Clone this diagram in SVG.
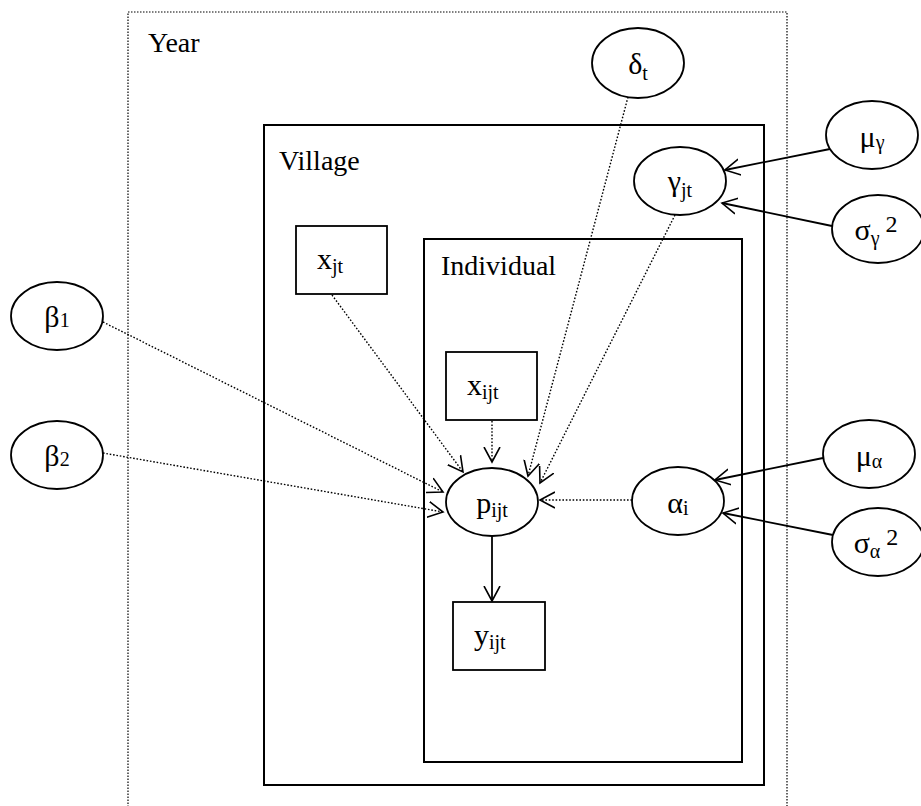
<svg xmlns="http://www.w3.org/2000/svg" width="921" height="806" viewBox="0 0 921 806">
<defs>
<marker id="ah" markerUnits="userSpaceOnUse" markerWidth="22" markerHeight="22" viewBox="0 -11 22 22" refX="15" refY="0" orient="auto">
<path d="M0,-8 L15,0 L0,8" fill="none" stroke="#000" stroke-width="1.6"/>
</marker>
</defs>
<style>
.plate{fill:none;stroke:#000;stroke-width:2}
.outer{fill:none;stroke:#000;stroke-width:1.2;stroke-dasharray:1.5 1.5}
.node{fill:#fff;stroke:#000;stroke-width:1.8}
.lbl{font-family:'Liberation Serif','Times New Roman',Times,serif;font-size:28px;fill:#000}
.nl{font-size:30px}
.sub{font-size:20px}
.sup{font-size:24px}
.dot{fill:none;stroke:#000;stroke-width:1.4;stroke-dasharray:1.6 1.8;marker-end:url(#ah)}
.sol{fill:none;stroke:#000;stroke-width:1.8;marker-end:url(#ah)}
</style>
<rect fill="#fff" x="0" y="0" width="921" height="806"/>
<g id="plates">
<rect id="year" class="outer" x="128" y="12" width="659" height="820"/>
<text class="lbl" x="148" y="52">Year</text>
<rect id="village" class="plate" x="264" y="125" width="500" height="660"/>
<text class="lbl" x="279" y="170">Village</text>
<rect id="individual" class="plate" x="424" y="239" width="318" height="523"/>
<text class="lbl" x="441" y="275">Individual</text>
</g>
<g id="connectors">
<line class="dot" x1="103" y1="322" x2="443" y2="492"/>
<line class="dot" x1="103" y1="453" x2="443" y2="512"/>
<line class="dot" x1="332" y1="295" x2="463" y2="472"/>
<line class="dot" x1="492" y1="421" x2="492" y2="462"/>
<line class="dot" x1="628" y1="97" x2="528" y2="476"/>
<line class="dot" x1="675" y1="215" x2="540" y2="483"/>
<line class="dot" x1="632" y1="500" x2="540" y2="500"/>
<line class="sol" x1="492" y1="536" x2="492" y2="601"/>
<line class="sol" x1="830" y1="149" x2="725" y2="170"/>
<line class="sol" x1="832" y1="226" x2="722" y2="203"/>
<line class="sol" x1="823" y1="458" x2="715" y2="480"/>
<line class="sol" x1="833" y1="535" x2="723" y2="513"/>
</g>
<g id="n_delta"><ellipse class="node" cx="638" cy="63" rx="46" ry="35"/><text class="lbl nl" x="638" y="74" text-anchor="middle">δ<tspan class="sub" dy="6">t</tspan></text></g>
<g id="n_gamma"><ellipse class="node" cx="680" cy="181" rx="46" ry="34"/><text class="lbl nl" x="680" y="191" text-anchor="middle">γ<tspan class="sub" dy="6">jt</tspan></text></g>
<g id="n_mu_gamma"><ellipse class="node" cx="872" cy="135" rx="46" ry="34"/><text class="lbl nl" x="872" y="147" text-anchor="middle">μ<tspan class="sub" dy="2">γ</tspan></text></g>
<g id="n_sigma_gamma"><ellipse class="node" cx="878" cy="229" rx="46" ry="34"/><text class="lbl nl" x="876" y="240" text-anchor="middle">σ<tspan class="sub" dy="5">γ</tspan><tspan class="sup" dx="6" dy="-13">2</tspan></text></g>
<g id="n_beta1"><ellipse class="node" cx="57" cy="316" rx="46" ry="34"/><text class="lbl nl" x="57" y="327" text-anchor="middle">β<tspan class="sub">1</tspan></text></g>
<g id="n_beta2"><ellipse class="node" cx="57" cy="455" rx="46" ry="34"/><text class="lbl nl" x="57" y="466" text-anchor="middle">β<tspan class="sub">2</tspan></text></g>
<g id="n_xjt"><rect class="node" x="296" y="226" width="91" height="68"/><text class="lbl nl" x="317" y="269">x<tspan class="sub" dy="4">jt</tspan></text></g>
<g id="n_xijt"><rect class="node" x="446" y="352" width="91" height="68"/><text class="lbl nl" x="467" y="395">x<tspan class="sub" dy="4">ijt</tspan></text></g>
<g id="n_p"><ellipse class="node" cx="492" cy="502" rx="46" ry="34"/><text class="lbl nl" x="492" y="513" text-anchor="middle">p<tspan class="sub" dy="4">ijt</tspan></text></g>
<g id="n_alpha"><ellipse class="node" cx="678" cy="501" rx="46" ry="34"/><text class="lbl nl" x="678" y="513" text-anchor="middle">α<tspan class="sub" dy="2">i</tspan></text></g>
<g id="n_mu_alpha"><ellipse class="node" cx="869" cy="454" rx="46" ry="34"/><text class="lbl nl" x="869" y="466" text-anchor="middle">μ<tspan class="sub" dy="2">α</tspan></text></g>
<g id="n_sigma_alpha"><ellipse class="node" cx="878" cy="542" rx="46" ry="34"/><text class="lbl nl" x="876" y="553" text-anchor="middle">σ<tspan class="sub" dy="5">α</tspan><tspan class="sup" dx="6" dy="-13">2</tspan></text></g>
<g id="n_y"><rect class="node" x="453" y="602" width="92" height="68"/><text class="lbl nl" x="474" y="645">y<tspan class="sub" dy="4">ijt</tspan></text></g>
</svg>
